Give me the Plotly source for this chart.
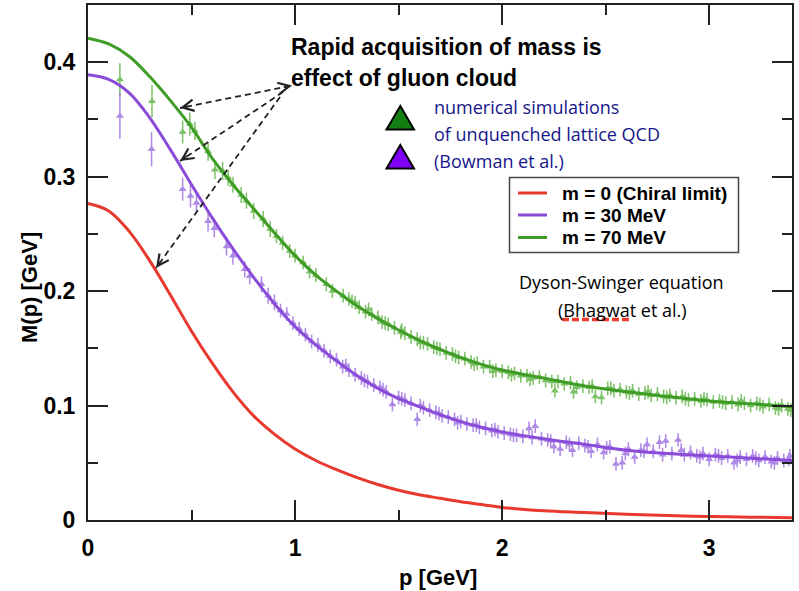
import plotly.graph_objects as go

# ---------------- data ----------------
# Dyson-Schwinger curves (p in GeV, M in GeV)
curve_p = [0.0, 0.1, 0.2, 0.3, 0.4, 0.5, 0.6, 0.7, 0.8, 0.9, 1.0, 1.1, 1.2, 1.3, 1.4,
           1.5, 1.6, 1.7, 1.8, 1.9, 2.0, 2.2, 2.4, 2.6, 2.8, 3.0, 3.2, 3.4]
m0_curve = [0.2765, 0.270, 0.252, 0.226, 0.196, 0.165, 0.137, 0.112, 0.091, 0.075, 0.062,
            0.052, 0.044, 0.037, 0.031, 0.026, 0.022, 0.019, 0.016, 0.0135, 0.011,
            0.008, 0.0065, 0.005, 0.004, 0.003, 0.0025, 0.002]
m30_curve = [0.389, 0.385, 0.373, 0.351, 0.323, 0.293, 0.264, 0.237, 0.212, 0.189, 0.169,
             0.153, 0.139, 0.126, 0.115, 0.106, 0.099, 0.092, 0.086, 0.081, 0.077,
             0.071, 0.066, 0.061, 0.058, 0.056, 0.054, 0.052]
m70_curve = [0.421, 0.416, 0.405, 0.387, 0.366, 0.343, 0.316, 0.293, 0.272, 0.251, 0.231,
             0.214, 0.200, 0.187, 0.176, 0.166, 0.157, 0.149, 0.142, 0.136, 0.131,
             0.124, 0.117, 0.112, 0.108, 0.104, 0.1015, 0.099]

# Lattice points, m = 70 MeV (low momentum, individual errors)
lat70_p_low = [0.154, 0.309, 0.457, 0.492, 0.516, 0.580, 0.613, 0.650, 0.677, 0.700, 0.740,
               0.765, 0.800, 0.846, 0.880, 0.910, 0.940, 0.974, 1.000, 1.039, 1.070, 1.100,
               1.151, 1.180, 1.232]
lat70_M_low = [0.385, 0.366, 0.339, 0.346, 0.340, 0.322, 0.306, 0.305, 0.299, 0.293, 0.284,
               0.279, 0.270, 0.263, 0.254, 0.248, 0.242, 0.235, 0.231, 0.225, 0.217, 0.214,
               0.206, 0.200, 0.196]
lat70_err_low = [0.014, 0.014, 0.010, 0.010, 0.008, 0.008, 0.008, 0.008, 0.007, 0.007, 0.007,
                 0.007, 0.007, 0.007, 0.007, 0.006, 0.006, 0.006, 0.006, 0.006, 0.006, 0.006,
                 0.006, 0.006, 0.006]
# m = 70 MeV, dense high-momentum region
lat70_p_high = [1.26, 1.29, 1.31, 1.34, 1.37, 1.40, 1.42, 1.45, 1.48, 1.51, 1.53, 1.56, 1.59,
                1.62, 1.64, 1.67, 1.70, 1.73, 1.76, 1.79, 1.82, 1.85, 1.88, 1.91, 1.94, 1.97,
                2.00, 2.03, 2.06, 2.09, 2.12, 2.15, 2.18, 2.21, 2.24, 2.27, 2.30, 2.33, 2.36,
                2.39, 2.42, 2.45, 2.48, 2.51, 2.54, 2.57, 2.60, 2.63, 2.66, 2.69, 2.72, 2.75,
                2.78, 2.81, 2.84, 2.87, 2.90, 2.93, 2.96, 2.99, 3.02, 3.05, 3.08, 3.11, 3.14,
                3.17, 3.20, 3.23, 3.26, 3.29, 3.32, 3.35, 3.38,
                1.275, 1.355, 1.435, 1.515, 1.605, 1.685, 1.775, 1.865, 1.955, 2.045, 2.135,
                2.255, 2.345, 2.435, 2.525, 2.615, 2.705, 2.795, 2.885, 2.975, 3.065, 3.155,
                3.245, 3.335, 3.395]
lat70_M_high = [0.193, 0.190, 0.186, 0.182, 0.180, 0.177, 0.173, 0.171, 0.168, 0.164, 0.163,
                0.160, 0.158, 0.155, 0.154, 0.151, 0.149, 0.146, 0.145, 0.142, 0.141, 0.138,
                0.137, 0.134, 0.134, 0.131, 0.130, 0.129, 0.128, 0.126, 0.126, 0.124, 0.125,
                0.122, 0.121, 0.121, 0.119, 0.120, 0.116, 0.117, 0.116, 0.108, 0.107, 0.115,
                0.113, 0.114, 0.112, 0.113, 0.110, 0.111, 0.109, 0.110, 0.108, 0.109, 0.107,
                0.108, 0.105, 0.106, 0.104, 0.105, 0.103, 0.104, 0.102, 0.103, 0.101, 0.102,
                0.100, 0.102, 0.099, 0.101, 0.098, 0.100, 0.097,
                0.191, 0.184, 0.172, 0.166, 0.155, 0.150, 0.143, 0.136, 0.130, 0.127, 0.123,
                0.113, 0.112, 0.117, 0.115, 0.111, 0.112, 0.107, 0.106, 0.106, 0.103, 0.104,
                0.101, 0.097, 0.096]

# Lattice points, m = 30 MeV (low momentum, individual errors)
lat30_p_low = [0.154, 0.307, 0.457, 0.495, 0.524, 0.580, 0.610, 0.669, 0.700, 0.757, 0.781,
               0.838, 0.870, 0.900, 0.930, 0.960, 0.990, 1.020, 1.050, 1.080, 1.110, 1.140,
               1.170, 1.200]
lat30_M_low = [0.353, 0.324, 0.289, 0.283, 0.277, 0.261, 0.255, 0.239, 0.231, 0.219, 0.213,
               0.206, 0.196, 0.190, 0.183, 0.180, 0.172, 0.167, 0.162, 0.156, 0.153, 0.148,
               0.143, 0.140]
lat30_err_low = [0.020, 0.015, 0.010, 0.010, 0.009, 0.009, 0.008, 0.008, 0.008, 0.007, 0.007,
                 0.007, 0.007, 0.007, 0.006, 0.006, 0.006, 0.006, 0.006, 0.006, 0.006, 0.006,
                 0.006, 0.006]
# m = 30 MeV, dense high-momentum region
lat30_p_high = [1.23, 1.26, 1.29, 1.32, 1.35, 1.38, 1.41, 1.44, 1.47, 1.50, 1.53, 1.56, 1.59,
                1.62, 1.65, 1.68, 1.71, 1.74, 1.77, 1.80, 1.83, 1.86, 1.89, 1.92, 1.95, 1.98,
                2.01, 2.04, 2.07, 2.10, 2.13, 2.16, 2.19, 2.22, 2.25, 2.28, 2.31, 2.34, 2.37,
                2.40, 2.43, 2.46, 2.49, 2.52, 2.55, 2.58, 2.61, 2.64, 2.67, 2.70, 2.73, 2.76,
                2.79, 2.82, 2.85, 2.88, 2.91, 2.94, 2.97, 3.00, 3.03, 3.06, 3.09, 3.12, 3.15,
                3.18, 3.21, 3.24, 3.27, 3.30, 3.33, 3.36, 3.39,
                1.245, 1.335, 1.425, 1.515, 1.605, 1.695, 1.785, 1.875, 1.965, 2.055, 2.145,
                2.235, 2.325, 2.415, 2.505, 2.595, 2.685, 2.775, 2.865, 2.955, 3.045, 3.135,
                3.225, 3.315, 3.385]
lat30_M_high = [0.134, 0.131, 0.127, 0.124, 0.121, 0.118, 0.116, 0.112, 0.101, 0.107, 0.105,
                0.102, 0.088, 0.098, 0.096, 0.094, 0.091, 0.090, 0.088, 0.086, 0.084, 0.083,
                0.081, 0.080, 0.078, 0.077, 0.076, 0.075, 0.074, 0.073, 0.080, 0.082, 0.071,
                0.070, 0.064, 0.062, 0.068, 0.061, 0.067, 0.065, 0.060, 0.066, 0.059, 0.064,
                0.049, 0.050, 0.062, 0.055, 0.061, 0.066, 0.060, 0.068, 0.069, 0.058, 0.070,
                0.057, 0.059, 0.056, 0.058, 0.053, 0.057, 0.054, 0.056, 0.050, 0.055, 0.053,
                0.056, 0.052, 0.055, 0.051, 0.054, 0.052, 0.056,
                0.135, 0.122, 0.114, 0.106, 0.100, 0.093, 0.085, 0.083, 0.079, 0.074, 0.072,
                0.069, 0.066, 0.064, 0.063, 0.058, 0.060, 0.057, 0.061, 0.055, 0.056, 0.052,
                0.054, 0.050, 0.053]

# ---------------- colours ----------------
RED = "#e8392e"
PURPLE = "#8a4cd8"
GREEN = "#3f9d26"
PURPLE_PT = "#9462df"
GREEN_PT = "#4fae34"

fig = go.Figure()

def add_points(p, M, err, color):
    fig.add_trace(go.Scatter(
        x=p, y=M, mode="markers", showlegend=False, opacity=0.75,
        marker=dict(symbol="triangle-up", size=7, color=color, line=dict(width=0)),
        error_y=dict(type="data", array=err, visible=True, color=color, thickness=1.5, width=0)
        if isinstance(err, list) else
        dict(type="constant", value=err, visible=True, color=color, thickness=1.5, width=0),
        error_x=dict(type="constant", value=0.011, visible=True, color=color, thickness=1.5, width=0),
    ))

add_points(lat70_p_low, lat70_M_low, lat70_err_low, GREEN_PT)
add_points(lat70_p_high, lat70_M_high, 0.006, GREEN_PT)
add_points(lat30_p_low, lat30_M_low, lat30_err_low, PURPLE_PT)
add_points(lat30_p_high, lat30_M_high, 0.006, PURPLE_PT)

for yv, col, name in [(m0_curve, RED, "m = 0 (Chiral limit)"),
                      (m30_curve, PURPLE, "m = 30 MeV"),
                      (m70_curve, GREEN, "m = 70 MeV")]:
    fig.add_trace(go.Scatter(x=curve_p, y=yv, mode="lines", name=name, showlegend=False,
                             line=dict(color=col, width=3, shape="spline", smoothing=1.0)))

# ---------------- layout helpers (pixel -> paper) ----------------
L, R, T, B = 88, 7, 5, 71
W, H = 799, 591
PW, PH = W - L - R, H - T - B

def px(xp):
    return (xp - L) / PW

def py(yp):
    return (T + PH - yp) / PH

shapes = []
annotations = []

# dashed arrows
arrows = [((290, 86), (180, 108)), ((283, 92), (180, 161)), ((280, 97), (156, 268))]
for (tx, ty), (hx, hy) in arrows:
    shapes.append(dict(type="line", xref="paper", yref="paper", x0=px(tx), y0=py(ty),
                       x1=px(hx), y1=py(hy), line=dict(color="#222", width=1.8, dash="6px,4px")))
    dx, dy = tx - hx, ty - hy
    n = (dx * dx + dy * dy) ** 0.5
    annotations.append(dict(xref="paper", yref="paper", x=px(hx), y=py(hy), text="",
                            showarrow=True, arrowhead=5, arrowsize=1.4, arrowwidth=1.6,
                            arrowcolor="#222", ax=dx / n * 10, ay=dy / n * 10, standoff=0))
# arrowhead at text end of first arrow
(tx, ty), (hx, hy) = arrows[0]
dx, dy = hx - tx, hy - ty
n = (dx * dx + dy * dy) ** 0.5
annotations.append(dict(xref="paper", yref="paper", x=px(tx + 2), y=py(ty - 0.4), text="",
                        showarrow=True, arrowhead=5, arrowsize=1.4, arrowwidth=1.6,
                        arrowcolor="#222", ax=dx / n * 10, ay=dy / n * 10, standoff=0))

BOLD = dict(family="Liberation Sans, Arial, sans-serif", color="black", weight="bold")

annotations.append(dict(xref="paper", yref="paper", x=px(289), y=py(47), xanchor="left",
                        yanchor="middle", showarrow=False, text="Rapid acquisition of mass is",
                        font=dict(BOLD, size=23)))
annotations.append(dict(xref="paper", yref="paper", x=px(289), y=py(78), xanchor="left",
                        yanchor="middle", showarrow=False, text="effect of gluon cloud",
                        font=dict(BOLD, size=23)))

# lattice legend (triangles + blue text)
for (top, bot), fill in [((106, 129.5), "#137f13"), ((145, 168.5), "#7f00f5")]:
    path = "M {:.5f},{:.5f} L {:.5f},{:.5f} L {:.5f},{:.5f} Z".format(
        px(386.5), py(bot), px(414), py(bot), px(400.3), py(top))
    shapes.append(dict(type="path", xref="paper", yref="paper", path=path,
                       fillcolor=fill, line=dict(color="black", width=2)))

BLUE = "#16168a"
SANS = "Open Sans, Noto Sans, sans-serif"
for txt, yc in [("numerical simulations", 107), ("of unquenched lattice QCD", 133.5),
                ("(Bowman et al.)", 161)]:
    annotations.append(dict(xref="paper", yref="paper", x=px(432), y=py(yc), xanchor="left",
                            yanchor="middle", showarrow=False, text=txt,
                            font=dict(family=SANS, size=18, color=BLUE)))

# line legend box
shapes.append(dict(type="rect", xref="paper", yref="paper", x0=px(509.5), y0=py(252.5),
                   x1=px(738.5), y1=py(177.5), fillcolor="white",
                   line=dict(color="#444", width=1.5)))
for (col, name), yc in zip([(RED, "m = 0 (Chiral limit)"), (PURPLE, "m = 30 MeV"),
                            (GREEN, "m = 70 MeV")], [193, 215, 237.5]):
    shapes.append(dict(type="line", xref="paper", yref="paper", x0=px(518), x1=px(547),
                       y0=py(yc), y1=py(yc), line=dict(color=col, width=3)))
    annotations.append(dict(xref="paper", yref="paper", x=px(560), y=py(yc), xanchor="left",
                            yanchor="middle", showarrow=False, text=name,
                            font=dict(BOLD, size=19)))

# DSE label
annotations.append(dict(xref="paper", yref="paper", x=px(621), y=py(282), xanchor="center",
                        yanchor="middle", showarrow=False, text="Dyson-Swinger equation",
                        font=dict(family=SANS, size=18, color="black")))
annotations.append(dict(xref="paper", yref="paper", x=px(622), y=py(310), xanchor="center",
                        yanchor="middle", showarrow=False, text="(Bhagwat et al.)",
                        font=dict(family=SANS, size=18, color="black")))
shapes.append(dict(type="line", xref="paper", yref="paper", x0=px(562), x1=px(632),
                   y0=py(319.5), y1=py(319.5), line=dict(color="#f03a30", width=3.5, dash="7px,3px")))

# axis titles
annotations.append(dict(xref="paper", yref="paper", x=px(438), y=py(577), xanchor="center",
                        yanchor="middle", showarrow=False, text="p [GeV]",
                        font=dict(BOLD, size=22)))
annotations.append(dict(xref="paper", yref="paper", x=px(29), y=py(288), xanchor="center",
                        yanchor="middle", showarrow=False, text="M(p) [GeV]", textangle=-90,
                        font=dict(BOLD, size=22)))

axis_common = dict(showgrid=False, zeroline=False, showline=True, linecolor="#222", linewidth=2,
                   mirror="ticks", ticks="inside", ticklen=20, tickwidth=2, tickcolor="#222",
                   tickfont=dict(BOLD, size=23), ticklabelstandoff=6, automargin=False)

fig.update_layout(
    width=W, height=H, autosize=False,
    margin=dict(l=L, r=R, t=T, b=B, autoexpand=False),
    paper_bgcolor="white", plot_bgcolor="white",
    xaxis=dict(axis_common, range=[0, 3.4], tickvals=[0, 1, 2, 3],
               minor=dict(tickvals=[0.5, 1.5, 2.5], ticklen=10, tickwidth=2, ticks="inside",
                          tickcolor="#222")),
    yaxis=dict(axis_common, range=[0, 0.45], tickvals=[0, 0.1, 0.2, 0.3, 0.4],
               minor=dict(tickvals=[0.05, 0.15, 0.25, 0.35], ticklen=10, tickwidth=2,
                          ticks="inside", tickcolor="#222")),
    shapes=shapes, annotations=annotations, showlegend=False,
)

fig.write_html("out.html", config={"displayModeBar": False},
               post_script="document.body.style.margin='0px';")
